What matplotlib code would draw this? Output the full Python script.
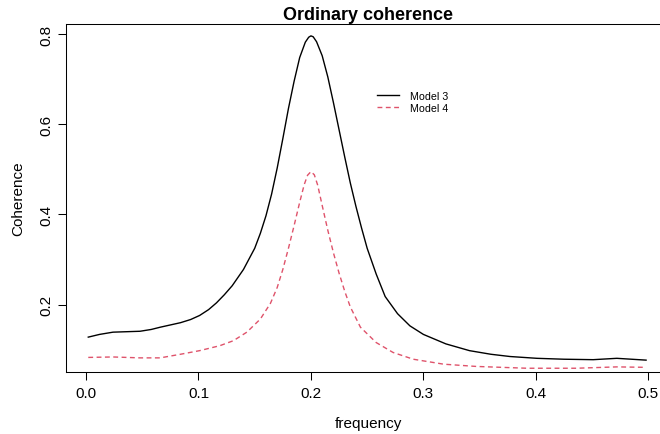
import numpy as np
import matplotlib
matplotlib.use("Agg")
import matplotlib.pyplot as plt

# values
freq_m3 = [0.002, 0.012, 0.024, 0.036, 0.048, 0.058, 0.066, 0.075, 0.084, 0.093,
           0.101, 0.109, 0.116, 0.123, 0.13, 0.14, 0.15, 0.155, 0.16, 0.165,
           0.17, 0.175, 0.18, 0.185, 0.19, 0.195, 0.198, 0.200, 0.202,
           0.205, 0.21, 0.215, 0.22, 0.225, 0.23, 0.235, 0.24, 0.245,
           0.25, 0.258, 0.266, 0.277, 0.288, 0.30, 0.32, 0.341, 0.36, 0.377,
           0.401, 0.425, 0.451, 0.472, 0.485, 0.498]
coh_m3 = [0.128, 0.134, 0.139, 0.140, 0.141, 0.145, 0.150, 0.155, 0.160, 0.167,
          0.176, 0.189, 0.204, 0.222, 0.242, 0.278, 0.325, 0.358, 0.397, 0.445,
          0.503, 0.568, 0.635, 0.695, 0.748, 0.782, 0.793, 0.796, 0.794,
          0.783, 0.752, 0.705, 0.648, 0.588, 0.528, 0.47, 0.418, 0.37,
          0.325, 0.268, 0.218, 0.180, 0.153, 0.134, 0.113, 0.098, 0.090, 0.085,
          0.081, 0.079, 0.078, 0.081, 0.079, 0.077]

freq_m4 = [0.002, 0.024, 0.048, 0.066, 0.084, 0.101, 0.119, 0.131, 0.143, 0.155,
           0.164, 0.17, 0.175, 0.18, 0.185, 0.19, 0.194, 0.197, 0.200, 0.203,
           0.206, 0.21, 0.215, 0.22, 0.225, 0.23, 0.235, 0.244, 0.258, 0.273,
           0.291, 0.318, 0.347, 0.392, 0.436, 0.472, 0.498]
coh_m4 = [0.083, 0.084, 0.082, 0.082, 0.090, 0.098, 0.109, 0.120, 0.139, 0.168,
          0.203, 0.238, 0.278, 0.325, 0.375, 0.427, 0.466, 0.487, 0.495, 0.488,
          0.465, 0.42, 0.365, 0.315, 0.27, 0.23, 0.195, 0.150, 0.116, 0.094,
          0.079, 0.068, 0.063, 0.059, 0.059, 0.062, 0.061]

xticks = [0.0, 0.1, 0.2, 0.3, 0.4, 0.5]
yticks = [0.2, 0.4, 0.6, 0.8]
labels = ["Model 3", "Model 4"]

plt.rcParams['font.family'] = ['Liberation Sans', 'DejaVu Sans']

W, H = 660, 435
fig = plt.figure(figsize=(W / 100, H / 100), dpi=100)
# box runs a bit past the right edge, like the reference
ax = fig.add_axes([66 / W, 1 - 373.3 / H, (670.7 - 66) / W, (373.3 - 24.7) / H])

ax.plot(freq_m3, coh_m3, color="black", lw=1.0, label=labels[0])
ax.plot(freq_m4, coh_m4, color="#DF536B", lw=1.0, dashes=(3.5, 2.5), label=labels[1])

ax.set_xlim(-0.0178, 0.5199)
ax.set_ylim(0.050, 0.823)
ax.set_xticks(xticks)
ax.set_xticklabels([f"{t:.1f}" for t in xticks])
ax.set_yticks(yticks)
ax.set_yticklabels([f"{t:.1f}" for t in yticks], rotation=90, va="center")
ax.tick_params(length=5.8, width=0.75, labelsize=11, pad=3.0)
ax.tick_params(axis="x", pad=4.0)
for s in ax.spines.values():
    s.set_linewidth(0.75)
ax.spines["right"].set_visible(False)

fig.text(368 / W, 1 - 20 / H, "Ordinary coherence", ha="center", va="baseline",
         fontsize=13, fontweight="bold")
fig.text(368 / W, 1 - 424 / H, "frequency", ha="center", va="center", fontsize=11)
fig.text(18 / W, 1 - 199 / H, "Coherence", ha="center", va="center",
         rotation=90, fontsize=11)

ax.legend(loc="upper left", bbox_to_anchor=(372 / W, 1 - 86.5 / H),
          bbox_transform=fig.transFigure, frameon=False, fontsize=7.7,
          borderpad=0, handlelength=2.07, handletextpad=1.0, labelspacing=0.2)

fig.savefig("out.png", dpi=100)
